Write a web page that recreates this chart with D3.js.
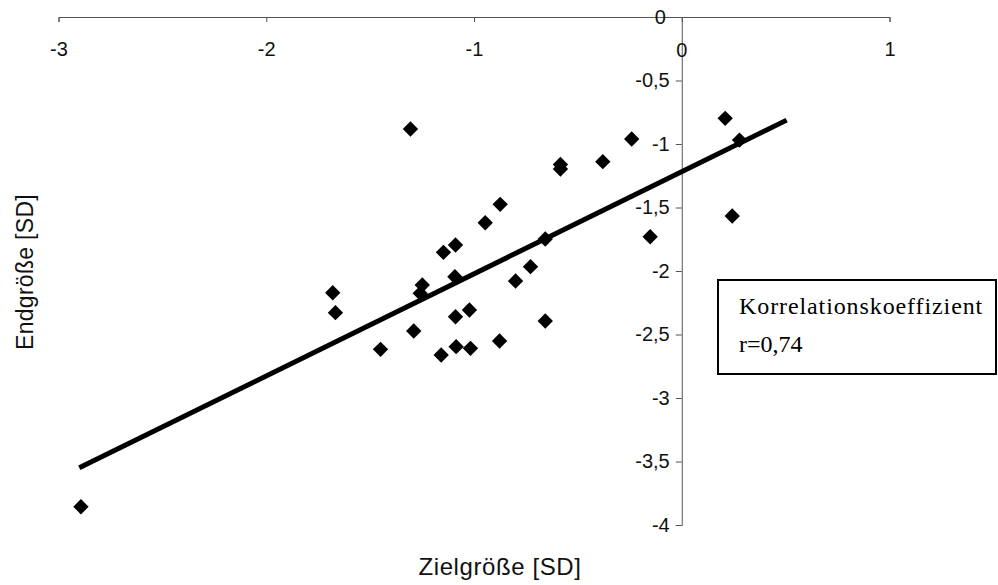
<!DOCTYPE html>
<html>
<head>
<meta charset="utf-8">
<script src="https://cdn.jsdelivr.net/npm/d3@7"></script>
<style>
  html, body { margin: 0; padding: 0; background: #fff; }
  svg { display: block; }
</style>
</head>
<body>
<svg id="chart" width="998" height="585"></svg>
<script>
// Target height (Zielgröße) vs final height (Endgröße), both in SD units
const zielSD = [-2.892, -1.306, -1.680, -1.667, -1.450, -1.290, -1.249, -1.259,
                -1.158, -1.086, -1.017, -1.089, -1.022, -1.092, -0.877, -0.657,
                -0.728, -0.800, -1.147, -1.089, -0.946, -0.874, -0.657, -0.584,
                -0.584, -0.380, -0.241, -0.152, 0.209, 0.278, 0.243];
const endSD  = [-3.856, -0.882, -2.171, -2.328, -2.617, -2.472, -2.110, -2.176,
                -2.661, -2.596, -2.609, -2.360, -2.307, -2.045, -2.551, -2.394,
                -1.966, -2.079, -1.853, -1.795, -1.620, -1.475, -1.748, -1.161,
                -1.197, -1.139, -0.961, -1.730, -0.798, -0.969, -1.567];

// Linear regression line
const fitSlope = 0.804;
const fitIntercept = -1.218;
const fitRange = [-2.9, 0.505];

const xTicks = [-3, -2, -1, 0, 1];
const yTicks = [0, -0.5, -1, -1.5, -2, -2.5, -3, -3.5, -4];

const legendLines = ["Korrelationskoeffizient", "r=0,74"];

const svg = d3.select("#chart");
const x = d3.scaleLinear().domain([-3, 1]).range([58.5, 889.5]);
const y = d3.scaleLinear().domain([-4, 0]).range([525, 17]);
const fmt = d => String(d).replace(".", ",");
const sans = "'Liberation Sans', Arial, sans-serif";

svg.append("rect").attr("width", 998).attr("height", 585).attr("fill", "#fff");

// x axis along the top edge (y = 0)
const gx = svg.append("g")
  .attr("transform", `translate(0,${y(0)})`)
  .call(d3.axisBottom(x).tickValues(xTicks).tickFormat(fmt)
        .tickSizeInner(5).tickSizeOuter(5).tickPadding(20));
gx.select(".domain").attr("stroke", "#555");
gx.selectAll(".tick line").attr("stroke", "#555");
gx.selectAll(".tick text")
  .attr("font-family", sans)
  .attr("font-size", 20).attr("fill", "#111")
  .filter(d => d === 0).remove();

// y axis through x = 0
const gy = svg.append("g")
  .attr("transform", `translate(${x(0)},0)`)
  .call(d3.axisLeft(y).tickValues(yTicks).tickFormat(fmt)
        .tickSizeInner(6).tickSizeOuter(6).tickPadding(6));
gy.select(".domain").attr("stroke", "#555");
gy.selectAll(".tick line").attr("stroke", "#555");
gy.selectAll(".tick text")
  .attr("font-family", sans)
  .attr("font-size", 20).attr("fill", "#111");
gy.selectAll(".tick").filter(d => d === 0).select("text").attr("x", -16);

// zero label of the top axis, just right of the y axis
svg.append("text")
  .attr("x", x(0)).attr("y", y(0) + 40)
  .attr("text-anchor", "middle")
  .attr("font-family", sans)
  .attr("font-size", 20).attr("fill", "#111")
  .text("0");

// regression line
svg.append("line")
  .attr("x1", x(fitRange[0])).attr("y1", y(fitSlope * fitRange[0] + fitIntercept))
  .attr("x2", x(fitRange[1])).attr("y2", y(fitSlope * fitRange[1] + fitIntercept))
  .attr("stroke", "#000").attr("stroke-width", 5);

// data points as diamonds
const diamond = d3.symbol().type(d3.symbolSquare).size(118);
svg.append("g").selectAll("path")
  .data(d3.range(zielSD.length))
  .join("path")
  .attr("d", diamond)
  .attr("transform", i => `translate(${x(zielSD[i])},${y(endSD[i])}) rotate(45)`)
  .attr("fill", "#000");

// axis titles
svg.append("text")
  .attr("x", 500).attr("y", 575)
  .attr("text-anchor", "middle")
  .attr("font-family", sans)
  .attr("font-size", 24).attr("letter-spacing", 0.6).attr("fill", "#111")
  .text("Zielgröße [SD]");

svg.append("text")
  .attr("transform", "translate(33,272) rotate(-90)")
  .attr("text-anchor", "middle")
  .attr("font-family", sans)
  .attr("font-size", 23).attr("letter-spacing", 0.3).attr("fill", "#111")
  .text("Endgröße [SD]");

// correlation box
const box = svg.append("g").attr("transform", "translate(718,280)");
box.append("rect")
  .attr("x", 0).attr("y", 0).attr("width", 278).attr("height", 94)
  .attr("fill", "#fff").attr("stroke", "#000").attr("stroke-width", 2);
box.selectAll("text")
  .data(legendLines)
  .join("text")
  .attr("x", 21).attr("y", (d, i) => 34 + i * 38)
  .attr("font-family", "'Liberation Serif', 'Times New Roman', serif")
  .attr("font-size", 24)
  .attr("letter-spacing", (d, i) => i === 0 ? 0.9 : 0)
  .attr("fill", "#000")
  .text(d => d);
</script>
</body>
</html>
